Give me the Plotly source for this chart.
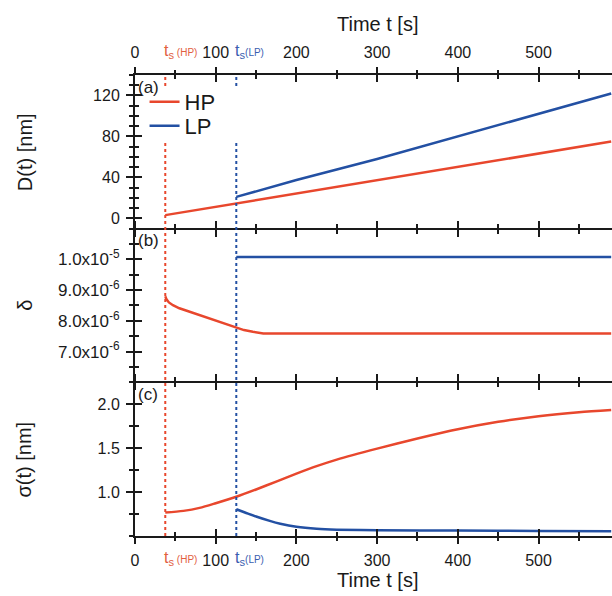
import plotly.graph_objects as go

# ---------------- data ----------------
ts_hp = 37.5
ts_lp = 125.5

t_D_hp = [37.5, 125.5, 200, 300, 400, 500, 590]
D_hp = [3.2, 14.6, 24.5, 37.5, 50.5, 63.0, 75.0]
t_D_lp = [125.5, 200, 300, 400, 500, 590]
D_lp = [21.0, 37.5, 58.0, 80.0, 102.0, 122.0]

t_d_hp = [37.5, 39, 42, 47, 55, 64, 75, 85, 95, 105, 115, 125.5, 135, 146, 152, 159, 200, 300, 400, 500, 590]
d_hp = [8.80e-6, 8.70e-6, 8.60e-6, 8.51e-6, 8.41e-6, 8.33e-6, 8.23e-6, 8.15e-6, 8.06e-6, 7.97e-6,
        7.87e-6, 7.78e-6, 7.70e-6, 7.645e-6, 7.61e-6, 7.59e-6, 7.59e-6, 7.59e-6, 7.59e-6, 7.59e-6, 7.59e-6]
t_d_lp = [125.5, 200, 300, 400, 500, 590]
d_lp = [1.008e-5, 1.008e-5, 1.008e-5, 1.008e-5, 1.008e-5, 1.008e-5]

t_s_hp = [37.5, 60, 80, 100, 125.5, 150, 175, 200, 225, 250, 300, 350, 400, 450, 500, 550, 590]
s_hp = [0.767, 0.786, 0.82, 0.873, 0.947, 1.03, 1.12, 1.21, 1.295, 1.37, 1.495, 1.61, 1.715, 1.80, 1.865, 1.91, 1.935]
t_s_lp = [125.5, 140, 150, 167, 180, 200, 225, 250, 300, 400, 500, 590]
s_lp = [0.805, 0.755, 0.722, 0.672, 0.640, 0.605, 0.582, 0.572, 0.565, 0.562, 0.558, 0.553]

x_ticks = [0, 100, 200, 300, 400, 500]
D_ticks = [0, 40, 80, 120]
D_ticktext = ["0", "40", "80", "120"]
d_ticks = [7e-6, 8e-6, 9e-6, 1e-5]
d_ticktext = ["7.0x10<sup>-6</sup>", "8.0x10<sup>-6</sup>", "9.0x10<sup>-6</sup>", "1.0x10<sup>-5</sup>"]
s_ticks = [1.0, 1.5, 2.0]
s_ticktext = ["1.0", "1.5", "2.0"]

RED = "#e8472d"
BLUE = "#2350a3"
INK = "#1a1a1a"
FONT = "Liberation Sans, Arial, sans-serif"

x_range = [0, 591]
D_range = [-10, 140]
d_range = [6e-6, 1.1e-5]
s_range = [0.5, 2.25]

fig = go.Figure()

# panel (a): x3/y3 ; panel (b): x2/y2 ; panel (c): x/y
fig.add_trace(go.Scatter(x=t_D_hp, y=D_hp, mode="lines", name="HP", line=dict(color=RED, width=2.5),
                         xaxis="x3", yaxis="y3", legend="legend"))
fig.add_trace(go.Scatter(x=t_D_lp, y=D_lp, mode="lines", name="LP", line=dict(color=BLUE, width=2.5),
                         xaxis="x3", yaxis="y3", legend="legend2"))
fig.add_trace(go.Scatter(x=t_d_hp, y=d_hp, mode="lines", showlegend=False, line=dict(color=RED, width=2.5),
                         xaxis="x2", yaxis="y2"))
fig.add_trace(go.Scatter(x=t_d_lp, y=d_lp, mode="lines", showlegend=False, line=dict(color=BLUE, width=2.5),
                         xaxis="x2", yaxis="y2"))
fig.add_trace(go.Scatter(x=t_s_hp, y=s_hp, mode="lines", showlegend=False,
                         line=dict(color=RED, width=2.5, shape="spline", smoothing=0.8),
                         xaxis="x", yaxis="y"))
fig.add_trace(go.Scatter(x=t_s_lp, y=s_lp, mode="lines", showlegend=False,
                         line=dict(color=BLUE, width=2.5, shape="spline", smoothing=0.8),
                         xaxis="x", yaxis="y"))

# invisible traces on overlay axes (inside ticks -> crossing ticks)
for xa, ya, xs, ys in [("x4", "y4", t_s_hp, s_hp), ("x5", "y5", t_d_hp, d_hp), ("x6", "y6", t_D_hp, D_hp)]:
    fig.add_trace(go.Scatter(x=xs, y=ys, mode="lines", showlegend=False, opacity=0,
                             line=dict(width=0), hoverinfo="skip", xaxis=xa, yaxis=ya))

tickfont = dict(family=FONT, size=16, color=INK)


def xax(anchor, side="bottom", labels=False, ticks="outside", lw=1, mirror="ticks", overlay=None):
    d = dict(anchor=anchor, range=x_range, side=side, tickvals=x_ticks, automargin=False,
             showticklabels=labels, ticks=ticks, ticklen=7, tickwidth=2, tickcolor=INK,
             mirror=mirror, showline=lw > 0, linecolor=INK, linewidth=max(lw, 1),
             showgrid=False, zeroline=False, tickfont=tickfont, ticklabelstandoff=3,
             minor=dict(ticks=ticks, ticklen=4, tickwidth=2, tickcolor=INK, dtick=50, tick0=0, showgrid=False))
    if overlay:
        d["overlaying"] = overlay
    else:
        d["domain"] = [0, 1]
    return d


def yax(anchor, dom, rng, tv, tt, mdt, ticks="outside", labels=True, line=True, overlay=None, size=16):
    d = dict(anchor=anchor, range=rng, tickvals=tv, ticktext=tt, showticklabels=labels, automargin=False,
             ticks=ticks, ticklen=7, tickwidth=2, tickcolor=INK, showline=line, linecolor=INK,
             linewidth=2, showgrid=False, zeroline=False,
             tickfont=dict(family=FONT, size=size, color=INK), ticklabelstandoff=3,
             minor=dict(ticks=ticks, ticklen=4, tickwidth=2, tickcolor=INK, dtick=mdt, showgrid=False))
    if overlay:
        d["overlaying"] = overlay
    else:
        d["domain"] = dom
    return d


fig.update_layout(
    width=612, height=596,
    margin=dict(l=135, r=0, t=75, b=60),
    paper_bgcolor="white", plot_bgcolor="white",
    font=dict(family=FONT, color=INK),
    xaxis=xax("y", labels=True),
    xaxis2=xax("y2"),
    xaxis3=xax("y3", side="top", labels=True),
    xaxis4=xax("y4", ticks="inside", lw=2, mirror=False, overlay="x"),
    xaxis5=xax("y5", ticks="", lw=0, mirror=False, overlay="x2"),
    xaxis6=xax("y6", side="top", ticks="inside", lw=2, mirror=False, overlay="x3"),
    yaxis=yax("x", [0, 1 / 3], s_range, s_ticks, s_ticktext, 0.25),
    yaxis2=yax("x2", [1 / 3, 2 / 3], d_range, d_ticks, d_ticktext, 5e-7, size=17),
    yaxis3=yax("x3", [2 / 3, 1], D_range, D_ticks, D_ticktext, 10),
    yaxis4=yax("x4", None, s_range, s_ticks, s_ticktext, 0.25, ticks="inside", labels=False, line=False, overlay="y"),
    yaxis5=yax("x5", None, d_range, d_ticks, d_ticktext, 5e-7, ticks="inside", labels=False, line=False, overlay="y2"),
    yaxis6=yax("x6", None, D_range, D_ticks, D_ticktext, 10, ticks="inside", labels=False, line=False, overlay="y3"),
    legend=dict(x=0.02, y=0.9414, xanchor="left", yanchor="middle", bgcolor="rgba(0,0,0,0)",
                font=dict(family=FONT, size=22, color=INK), borderwidth=0),
    legend2=dict(x=0.02, y=0.8894, xanchor="left", yanchor="middle", bgcolor="rgba(0,0,0,0)",
                 font=dict(family=FONT, size=22, color=INK), borderwidth=0),
    showlegend=True,
)

# dotted start-time lines
for ts, col in [(ts_hp, RED), (ts_lp, BLUE)]:
    fig.add_shape(type="line", xref="x", yref="paper", x0=ts, x1=ts, y0=0, y1=1,
                  line=dict(color=col, width=2, dash="dot"), layer="above")

# white backing of the legend block (hides the dotted lines behind it)
fig.add_shape(type="rect", xref="paper", yref="paper", x0=0.015, x1=0.235, y0=0.8525, y1=0.972,
              line=dict(width=0), fillcolor="white", layer="above")

# t_s labels on top and bottom axes
for ts, col, sub in [(ts_hp, "#e2603f", " (HP)"), (ts_lp, "#3a5db0", "(LP)")]:
    txt = "t<sub>s</sub><span style='font-size:10px'>" + sub + "</span>"
    for yy in [1.051, -0.048]:
        fig.add_annotation(x=ts, y=yy, xref="x", yref="paper", text=txt, showarrow=False,
                           xanchor="left", yanchor="middle", xshift=-3,
                           font=dict(family=FONT, size=16, color=col))

# axis titles
fig.add_annotation(x=0.509, y=1.111, xref="paper", yref="paper", text="Time t [s]", showarrow=False,
                   xanchor="center", yanchor="middle", font=dict(family=FONT, size=20, color=INK))
fig.add_annotation(x=0.509, y=-0.095, xref="paper", yref="paper", text="Time t [s]", showarrow=False,
                   xanchor="center", yanchor="middle", font=dict(family=FONT, size=20, color=INK))
for txt, yy in [("D(t) [nm]", 5 / 6), ("δ", 0.5), ("σ(t) [nm]", 1 / 6)]:
    fig.add_annotation(x=-0.232, y=yy, xref="paper", yref="paper", text=txt, showarrow=False,
                       textangle=-90, xanchor="center", yanchor="middle",
                       font=dict(family=FONT, size=20, color=INK))

# panel letters
for txt, yref in [("(a)", "y3 domain"), ("(b)", "y2 domain"), ("(c)", "y domain")]:
    fig.add_annotation(x=0.003, y=0.995, xref="paper", yref=yref, text=txt, showarrow=False,
                       xanchor="left", yanchor="top", font=dict(family=FONT, size=17, color=INK))

fig.write_html("out.html", config={"displayModeBar": False},
               post_script="document.body.style.margin='0';document.body.style.overflow='hidden';")
